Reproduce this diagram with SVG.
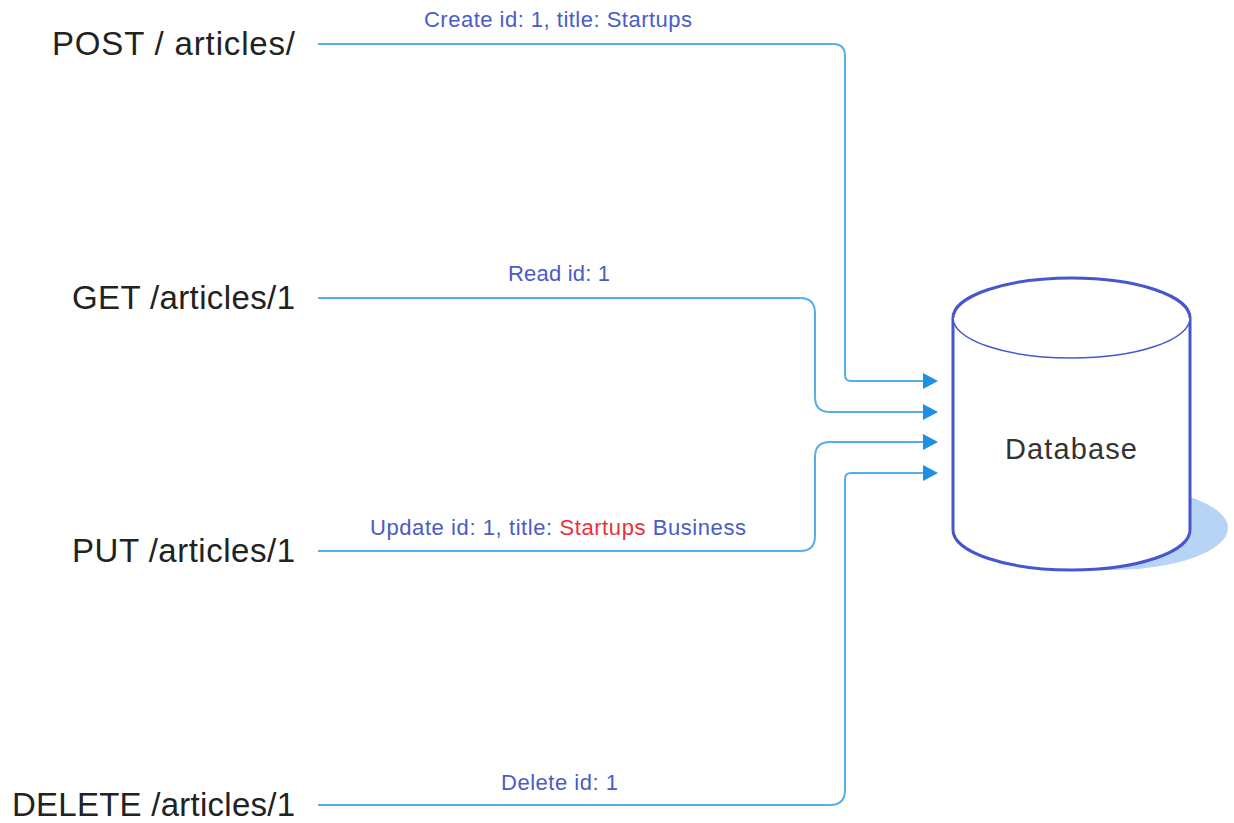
<svg xmlns="http://www.w3.org/2000/svg" width="1234" height="823" viewBox="0 0 1234 823">
<style>
.method{font-family:"Liberation Sans",Arial,sans-serif;font-size:33px;fill:#222}
.lbl{font-family:"Liberation Sans",Arial,sans-serif;font-size:22px;fill:#4a5cc6}
.red{fill:#e8323c}
.conn{fill:none;stroke:#5aaee8;stroke-width:2}
.cyl{stroke:#4656cc;fill:#fff}
</style>
<defs>
<marker id="arr" markerWidth="16" markerHeight="16" refX="0" refY="8" orient="auto" markerUnits="userSpaceOnUse">
<path d="M0,0 L15,8 L0,16 Z" fill="#1e8fe3"/>
</marker>
</defs>
<rect width="1234" height="823" fill="#fff"/>
<g id="connectors">
<path class="conn" d="M318,44 H833 Q845,44 845,56 V375 Q845,381 851,381 H923" marker-end="url(#arr)"/>
<path class="conn" d="M318,298 H800 Q815,298 815,313 V397 Q815,412 830,412 H923" marker-end="url(#arr)"/>
<path class="conn" d="M318,551 H800 Q815,551 815,536 V457 Q815,442 830,442 H923" marker-end="url(#arr)"/>
<path class="conn" d="M318,805 H830 Q845,805 845,790 V479 Q845,473 851,473 H923" marker-end="url(#arr)"/>
<text class="lbl" x="424" y="27" textLength="268" lengthAdjust="spacing">Create id: 1, title: Startups</text>
<text class="lbl" x="508" y="281" textLength="102" lengthAdjust="spacing">Read id: 1</text>
<text class="lbl" x="370" y="535" textLength="376" lengthAdjust="spacing">Update id: 1, title: <tspan class="red">Startups</tspan> Business</text>
<text class="lbl" x="501" y="790" textLength="117" lengthAdjust="spacing">Delete id: 1</text>
</g>
<g id="post"><text class="method" x="52" y="55" textLength="243" lengthAdjust="spacing">POST / articles/</text></g>
<g id="get"><text class="method" x="72" y="309" textLength="223" lengthAdjust="spacing">GET /articles/1</text></g>
<g id="put"><text class="method" x="72" y="562" textLength="223" lengthAdjust="spacing">PUT /articles/1</text></g>
<g id="delete"><text class="method" x="12" y="816" textLength="283" lengthAdjust="spacing">DELETE /articles/1</text></g>
<g id="database">
<ellipse cx="1110" cy="528" rx="118" ry="42" fill="#b7d3f6"/>
<path class="cyl" stroke-width="3" d="M953,318 V530 A118.5,40 0 0 0 1190,530 V318"/>
<ellipse class="cyl" cx="1071.5" cy="318" rx="118.5" ry="40" stroke-width="1.5"/>
<path fill="none" stroke="#4656cc" stroke-width="3" d="M953,318 A118.5,40 0 0 1 1190,318"/>
<text x="1071" y="459" font-family="'Liberation Sans',Arial,sans-serif" font-size="29" fill="#333" text-anchor="middle" textLength="132" lengthAdjust="spacing">Database</text>
</g>
</svg>
